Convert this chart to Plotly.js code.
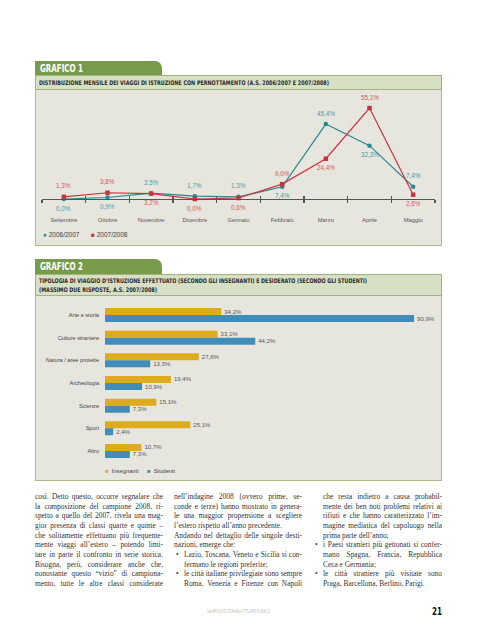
<!DOCTYPE html>
<html><head><meta charset="utf-8">
<script src="https://cdn.plot.ly/plotly-3.0.1.min.js"></script>
<style>
html,body{margin:0;padding:0;background:#fff;}
#page{position:relative;width:477px;height:640px;overflow:hidden;background:#fff;}
.abs{position:absolute;box-sizing:border-box;}
#chart{position:absolute;left:0;top:0;width:477px;height:640px;z-index:2;}
.line{position:absolute;white-space:nowrap;transform-origin:0 50%;line-height:1;z-index:3;}
</style></head><body>
<div id="page">
  <div class="abs" style="left:35px;top:61px;width:127px;height:15px;background:#789a4b;border-top-right-radius:7px;"></div>
  <div class="abs" style="left:35px;top:75px;width:407px;height:15px;background:#d7dfc4;border:1px solid #9fb47a;"></div>
  <div class="abs" style="left:35px;top:90px;width:407px;height:156px;background:#e6e5de;border:1.5px solid #a9bb86;border-top:none;"></div>

  <div class="abs" style="left:35px;top:259px;width:127px;height:15px;background:#789a4b;border-top-right-radius:7px;"></div>
  <div class="abs" style="left:35px;top:274px;width:407px;height:22px;background:#d7dfc4;border:1px solid #9fb47a;"></div>
  <div class="abs" style="left:35px;top:296px;width:407px;height:185px;background:#e6e5de;border:1.5px solid #a9bb86;border-top:none;"></div>
  <div id="chart"></div>
</div>
<script>
// ---------- data ----------
const months = ['Settembre','Ottobre','Novembre','Dicembre','Gennaio','Febbraio','Marzo','Aprile','Maggio'];
const as2006_2007 = [0.0, 0.9, 3.5, 1.7, 1.3, 7.4, 45.4, 32.3, 7.4];
const as2007_2008 = [1.3, 3.8, 3.2, 0.0, 0.6, 9.0, 24.4, 55.1, 2.6];
const seriesNames1 = ['2006/2007', '2007/2008'];

const tipologie = ['Arte e storia','Culture straniere','Natura / aree protette','Archeologia','Scienze','Sport','Altro'];
const insegnanti = [34.2, 33.1, 27.6, 19.4, 15.1, 25.1, 10.7];
const studenti = [90.9, 44.2, 13.3, 10.9, 7.3, 2.4, 7.3];
const seriesNames2 = ['Insegnanti', 'Studenti'];

// label placement (style, not data): 1 = above the point, -1 = below
const side1 = [-1,-1, 1, 1, 1,-1, 1,-1, 1];
const side2 = [ 1, 1,-1,-1,-1, 1,-1, 1,-1];

const F = 'Liberation Sans, Arial, sans-serif';
const teal = '#2a8893', red = '#c9343c', gold = '#deab1c', blue = '#3f8db8';
const fmt = v => v.toFixed(1).replace('.', ',') + '%';
const W = 477, H = 640;
const px = x => x / W, py = y => 1 - y / H;

const traces = [
  {type:'scatter', x:months, y:as2006_2007, name:seriesNames1[0], mode:'lines+markers',
   line:{color:teal,width:1.2}, marker:{symbol:'circle',size:4.5,color:teal},
   cliponaxis:false, showlegend:false, hoverinfo:'skip', xaxis:'x', yaxis:'y'},
  {type:'scatter', x:months, y:as2007_2008, name:seriesNames1[1], mode:'lines+markers',
   line:{color:red,width:1.2}, marker:{symbol:'square',size:4.5,color:red},
   cliponaxis:false, showlegend:false, hoverinfo:'skip', xaxis:'x', yaxis:'y'},
  {type:'scatter', x:[null], y:[null], xaxis:'x3', yaxis:'y', showlegend:false, hoverinfo:'skip'},
  {type:'bar', orientation:'h', y:tipologie, x:insegnanti, name:seriesNames2[0],
   marker:{color:gold}, text:insegnanti.map(fmt), textposition:'outside', constraintext:'none',
   outsidetextfont:{family:F,size:6,color:'#555'}, cliponaxis:false, showlegend:false, hoverinfo:'skip',
   xaxis:'x2', yaxis:'y2'},
  {type:'bar', orientation:'h', y:tipologie, x:studenti, name:seriesNames2[1],
   marker:{color:blue}, text:studenti.map(fmt), textposition:'outside', constraintext:'none',
   outsidetextfont:{family:F,size:6,color:'#555'}, cliponaxis:false, showlegend:false, hoverinfo:'skip',
   xaxis:'x2', yaxis:'y2'}
];

const boundaries = months.map((m,i)=>i-0.5).concat([months.length-0.5]);

function pointLabels(vals, sides, color){
  return vals.map((v,i)=>({xref:'x', yref:'y', x:months[i], y:v, text:fmt(v), showarrow:false,
    yshift: sides[i] > 0 ? 11 : -9, font:{family:F,size:6.3,color:color}}));
}

const layout = {
  width:W, height:H, margin:{l:0,r:0,t:0,b:0},
  paper_bgcolor:'rgba(0,0,0,0)', plot_bgcolor:'rgba(0,0,0,0)',
  showlegend:false, barmode:'group', bargap:0.38, bargroupgap:0,
  xaxis:{domain:[px(42),px(435)], anchor:'y', type:'category', categoryorder:'array', categoryarray:months,
    range:[-0.5,8.5], showline:true, linecolor:'#555', linewidth:1.2, ticks:'outside', tickson:'boundaries',
    ticklen:3, tickwidth:1.2, tickcolor:'#555', tickfont:{family:F,size:5.8,color:'#555'},
    ticklabelstandoff:15, showgrid:false, zeroline:false, fixedrange:true},
  xaxis3:{overlaying:'x', anchor:'y', range:[-0.5,8.5], tickmode:'array', tickvals:boundaries,
    ticks:'inside', ticklen:3, tickwidth:1.2, tickcolor:'#555', showticklabels:false,
    showgrid:false, zeroline:false, showline:false},
  yaxis:{domain:[py(199),py(95)], range:[0,63], visible:false},
  xaxis2:{domain:[px(105),px(420)], anchor:'y2', range:[0,92.65], visible:false},
  yaxis2:{domain:[py(462.3),py(303.7)], anchor:'x2', type:'category', categoryorder:'array', categoryarray:tipologie,
    range:[6.5,-0.5], showline:false, ticks:'', tickfont:{family:F,size:5.6,color:'#444'},
    ticklabelstandoff:5, showgrid:false, zeroline:false},
  annotations:[
    {xref:'paper',yref:'paper',x:px(40.5),y:py(234),xanchor:'left',yanchor:'middle',showarrow:false,
     text:'<span style="color:'+teal+'">●</span> '+seriesNames1[0],font:{family:F,size:6.5,color:'#444'}},
    {xref:'paper',yref:'paper',x:px(89),y:py(234),xanchor:'left',yanchor:'middle',showarrow:false,
     text:'<span style="color:'+red+'">■</span> '+seriesNames1[1],font:{family:F,size:6.5,color:'#444'}},
    {xref:'paper',yref:'paper',x:px(103),y:py(471),xanchor:'left',yanchor:'middle',showarrow:false,
     text:'<span style="color:'+gold+'">■</span>  '+seriesNames2[0],font:{family:F,size:5.8,color:'#444'}},
    {xref:'paper',yref:'paper',x:px(145),y:py(471),xanchor:'left',yanchor:'middle',showarrow:false,
     text:'<span style="color:'+blue+'">■</span>  '+seriesNames2[1],font:{family:F,size:5.8,color:'#444'}}
  ].concat(pointLabels(as2006_2007, side1, '#4d9ba6'), pointLabels(as2007_2008, side2, '#d45a58'))
};

Plotly.newPlot('chart', traces, layout, {staticPlot:true, displayModeBar:false});

// ---------- page text ----------
const page = document.getElementById('page');
function line(text, x, cy, w, o){
  o = o || {};
  const d = document.createElement('div');
  d.className = 'line';
  d.textContent = text;
  const size = o.size || 7.4;
  d.style.left = x + 'px';
  d.style.top = (cy - size*0.55) + 'px';
  d.style.fontSize = size + 'px';
  d.style.fontFamily = o.family || 'Liberation Serif, serif';
  d.style.color = o.color || '#333';
  if (o.bold) d.style.fontWeight = 'bold';
  if (o.ls) d.style.letterSpacing = o.ls + 'px';
  page.appendChild(d);
  const nat = d.getBoundingClientRect().width;
  if (o.justify) {
    const n = (text.match(/ /g) || []).length;
    const extra = w - nat;
    if (extra >= 0 && n > 0) d.style.wordSpacing = (extra / n) + 'px';
    else if (extra < 0) d.style.transform = 'scaleX(' + (w / nat) + ')';
  } else if (o.fit) {
    d.style.transform = 'scaleX(' + (w / nat) + ')';
  } else if (nat > w) {
    d.style.transform = 'scaleX(' + (w / nat) + ')';
  }
  return d;
}

// titles
line('GRAFICO 1', 40, 69, 43, {family:'DejaVu Sans, sans-serif', size:10, bold:true, color:'#fff', fit:true});
line('DISTRIBUZIONE MENSILE DEI VIAGGI DI ISTRUZIONE CON PERNOTTAMENTO (A.S. 2006/2007 E 2007/2008)', 39, 83, 290,
  {family:'DejaVu Sans Condensed, DejaVu Sans, sans-serif', size:6.3, bold:true, color:'#2a2a2a', fit:true});
line('GRAFICO 2', 40, 267, 43, {family:'DejaVu Sans, sans-serif', size:10, bold:true, color:'#fff', fit:true});
line('TIPOLOGIA DI VIAGGIO D\u2019ISTRUZIONE EFFETTUATO (SECONDO GLI INSEGNANTI) E DESIDERATO (SECONDO GLI STUDENTI)', 39, 281, 328,
  {family:'DejaVu Sans Condensed, DejaVu Sans, sans-serif', size:6.3, bold:true, color:'#2a2a2a', fit:true});
line('(MASSIMO DUE RISPOSTE, A.S. 2007/2008)', 39, 290, 118,
  {family:'DejaVu Sans Condensed, DejaVu Sans, sans-serif', size:6.3, bold:true, color:'#2a2a2a', fit:true});

// body columns
const y0 = 497, lh = 9.67;
const col1 = [
  ['così. Detto questo, occorre segnalare che', true],
  ['la composizione del campione 2008, ri-', true],
  ['spetto a quello del 2007, rivela una mag-', true],
  ['gior presenza di classi quarte e quinte –', true],
  ['che solitamente effettuano più frequente-', true],
  ['mente viaggi all\u2019estero – potendo limi-', true],
  ['tare in parte il confronto in serie storica.', true],
  ['Bisogna, però, considerare anche che,', true],
  ['nonostante questo \u201Cvizio\u201D di campiona-', true],
  ['mento, tutte le altre classi considerate', true]
];
col1.forEach((l,i)=>line(l[0], 35, y0+i*lh, 128, {justify:l[1]}));

const col2 = [
  ['nell\u2019indagine 2008 (ovvero prime, se-', true, 0],
  ['conde e terze) hanno mostrato in genera-', true, 0],
  ['le una maggior propensione a scegliere', true, 0],
  ['l\u2019estero rispetto all\u2019anno precedente.', false, 0],
  ['Andando nel dettaglio delle singole desti-', true, 0],
  ['nazioni, emerge che:', false, 0],
  ['Lazio, Toscana, Veneto e Sicilia si con-', true, 2],
  ['fermano le regioni preferite;', false, 1],
  ['le città italiane privilegiate sono sempre', true, 2],
  ['Roma, Venezia e Firenze con Napoli', true, 1]
];
col2.forEach((l,i)=>{
  const cy = y0+i*lh;
  if (l[2]===2) line('•', 176, cy, 6, {});
  if (l[2]) line(l[0], 184, cy, 118, {justify:l[1]});
  else line(l[0], 174, cy, 128, {justify:l[1]});
});

const col3 = [
  ['che resta indietro a causa probabil-', true, 0],
  ['mente dei ben noti problemi relativi ai', true, 0],
  ['rifiuti e che hanno caratterizzato l\u2019im-', true, 0],
  ['magine mediatica del capoluogo nella', true, 0],
  ['prima parte dell\u2019anno;', false, 0],
  ['i Paesi stranieri più gettonati si confer-', true, 2],
  ['mano Spagna, Francia, Repubblica', true, 1],
  ['Ceca e Germania;', false, 1],
  ['le città straniere più visitate sono', true, 2],
  ['Praga, Barcellona, Berlino, Parigi.', false, 1]
];
col3.forEach((l,i)=>{
  const cy = y0+i*lh;
  if (l[2]===2) line('•', 315, cy, 6, {});
  line(l[0], 323, cy, 119, {justify:l[1]});
});

// footer
line('laRIVISTAdelTURISMO', 207, 612, 63, {family:'DejaVu Sans, sans-serif', size:5.5, color:'#c4c4c4', fit:true});
line('21', 432, 612, 10, {family:'DejaVu Sans, sans-serif', size:10, bold:true, color:'#111', fit:true});
</script>
</body></html>
